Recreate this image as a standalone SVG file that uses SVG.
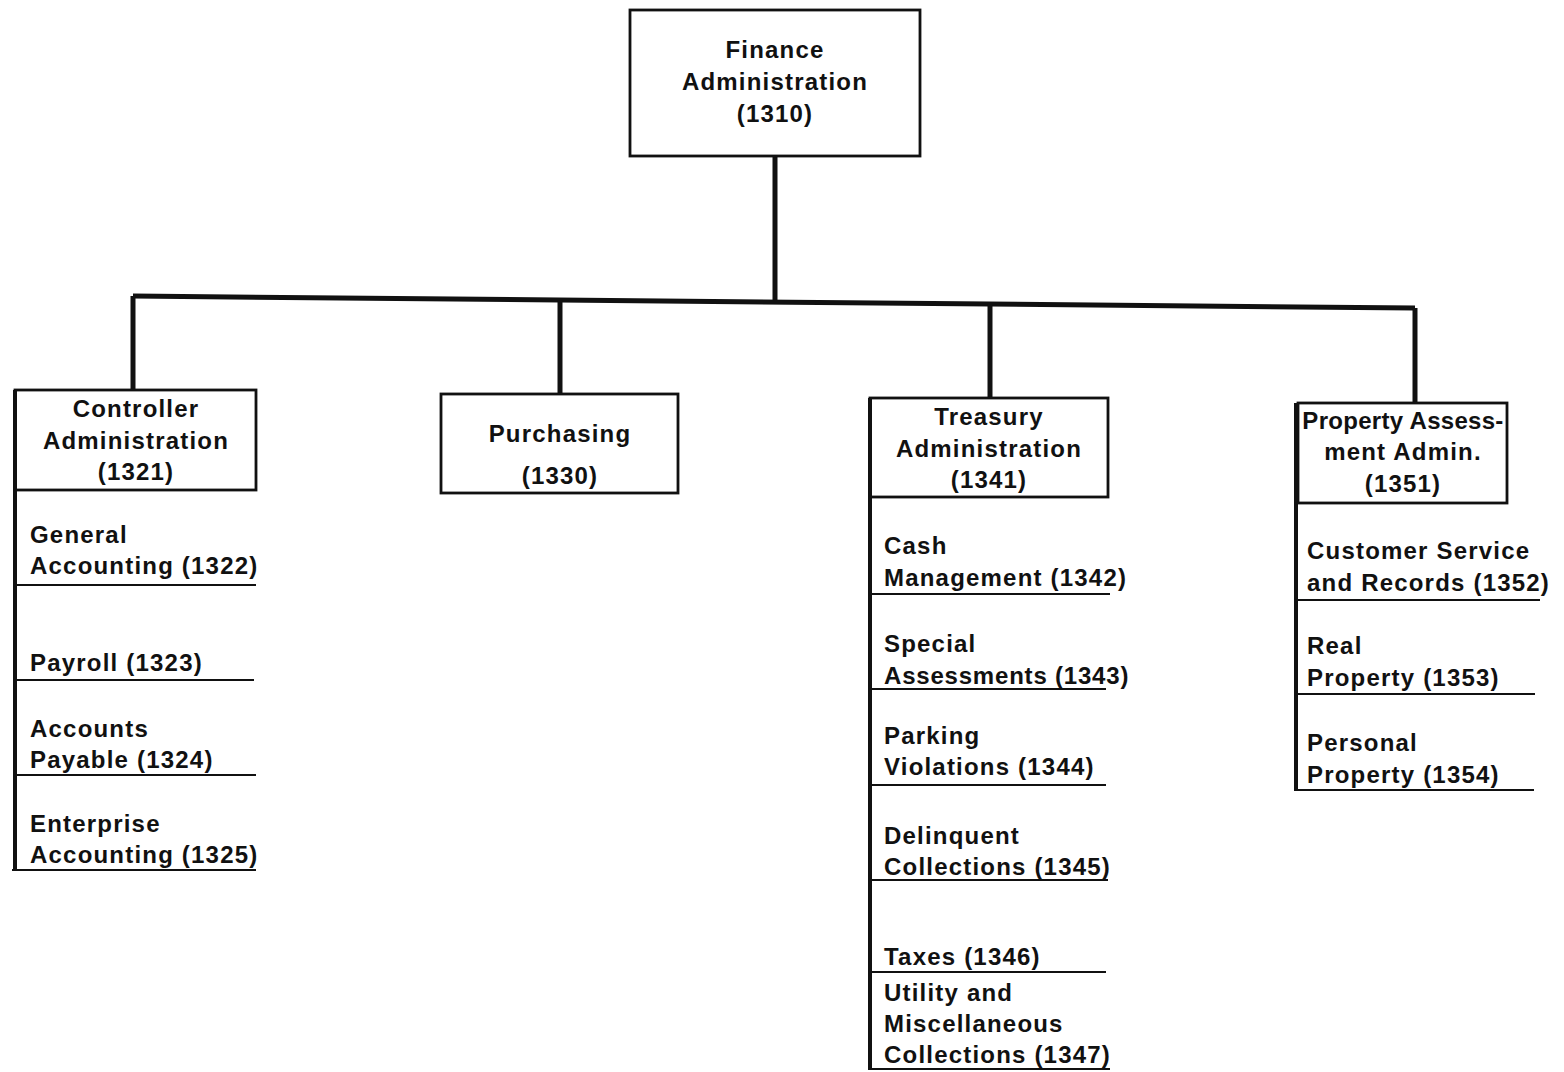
<svg xmlns="http://www.w3.org/2000/svg" width="1564" height="1072" viewBox="0 0 1564 1072">
<style>
text{font-family:"Liberation Sans",Arial,sans-serif;font-weight:bold;font-size:24px;letter-spacing:1.2px;fill:#111}
.c{text-anchor:middle}
.box{fill:#fff;stroke:#111;stroke-width:2.8}
.spine{stroke:#111;stroke-width:4;fill:none}
.ul{stroke:#111;stroke-width:2;fill:none}
.conn{stroke:#111;stroke-width:5;fill:none}
</style>
<rect width="1564" height="1072" fill="#fff"/>
<g id="connectors">
<path class="conn" d="M775 156 V301"/>
<path class="conn" d="M133 296 L1415 308"/>
<path class="conn" d="M133 296 V390"/>
<path class="conn" d="M560 300 V394"/>
<path class="conn" d="M990 304 V398"/>
<path class="conn" d="M1415 308 V403"/>
</g>
<g id="finance">
<rect class="box" x="630" y="10" width="290" height="146"/>
<text class="c" x="775" y="58">Finance</text>
<text class="c" x="775" y="90">Administration</text>
<text class="c" x="775" y="122">(1310)</text>
</g>
<g id="controller">
<rect class="box" x="15" y="390" width="241" height="100"/>
<text class="c" x="136" y="417">Controller</text>
<text class="c" x="136" y="449">Administration</text>
<text class="c" x="136" y="480">(1321)</text>
<path class="spine" d="M15 390 V871"/>
</g>
<g id="general-accounting">
<text x="30" y="543">General</text>
<text x="30" y="574">Accounting (1322)</text>
<path class="ul" d="M17 585 H256"/>
</g>
<g id="payroll">
<text x="30" y="671">Payroll (1323)</text>
<path class="ul" d="M17 680 H254"/>
</g>
<g id="accounts-payable">
<text x="30" y="737">Accounts</text>
<text x="30" y="768">Payable (1324)</text>
<path class="ul" d="M17 775 H256"/>
</g>
<g id="enterprise-accounting">
<text x="30" y="832">Enterprise</text>
<text x="30" y="863">Accounting (1325)</text>
<path class="ul" d="M12 870 H256"/>
</g>
<g id="purchasing">
<rect class="box" x="441" y="394" width="237" height="99"/>
<text class="c" x="560" y="442">Purchasing</text>
<text class="c" x="560" y="484">(1330)</text>
</g>
<g id="treasury">
<rect class="box" x="870" y="398" width="238" height="99"/>
<text class="c" x="989" y="425">Treasury</text>
<text class="c" x="989" y="457">Administration</text>
<text class="c" x="989" y="488">(1341)</text>
<path class="spine" d="M870 398 V1070"/>
</g>
<g id="cash-management">
<text x="884" y="554">Cash</text>
<text x="884" y="586">Management (1342)</text>
<path class="ul" d="M872 594 H1110"/>
</g>
<g id="special-assessments">
<text x="884" y="652">Special</text>
<text x="884" y="684" style="letter-spacing:0.8px">Assessments (1343)</text>
<path class="ul" d="M872 689 H1106"/>
</g>
<g id="parking-violations">
<text x="884" y="744">Parking</text>
<text x="884" y="775">Violations (1344)</text>
<path class="ul" d="M872 785 H1106"/>
</g>
<g id="delinquent-collections">
<text x="884" y="844">Delinquent</text>
<text x="884" y="875">Collections (1345)</text>
<path class="ul" d="M872 880 H1108"/>
</g>
<g id="taxes">
<text x="884" y="965">Taxes (1346)</text>
<path class="ul" d="M872 972 H1106"/>
</g>
<g id="utility-collections">
<text x="884" y="1001">Utility and</text>
<text x="884" y="1032">Miscellaneous</text>
<text x="884" y="1063">Collections (1347)</text>
<path class="ul" d="M868 1069 H1110"/>
</g>
<g id="property">
<rect class="box" x="1298" y="403" width="209" height="100"/>
<text class="c" x="1403" y="429" style="letter-spacing:0.3px">Property Assess-</text>
<text class="c" x="1403" y="460">ment Admin.</text>
<text class="c" x="1403" y="492">(1351)</text>
<path class="spine" d="M1296 403 V791"/>
</g>
<g id="customer-service">
<text x="1307" y="559">Customer Service</text>
<text x="1307" y="591">and Records (1352)</text>
<path class="ul" d="M1298 600 H1540"/>
</g>
<g id="real-property">
<text x="1307" y="654">Real</text>
<text x="1307" y="686">Property (1353)</text>
<path class="ul" d="M1298 694 H1535"/>
</g>
<g id="personal-property">
<text x="1307" y="751">Personal</text>
<text x="1307" y="783">Property (1354)</text>
<path class="ul" d="M1294 790 H1534"/>
</g>
</svg>
